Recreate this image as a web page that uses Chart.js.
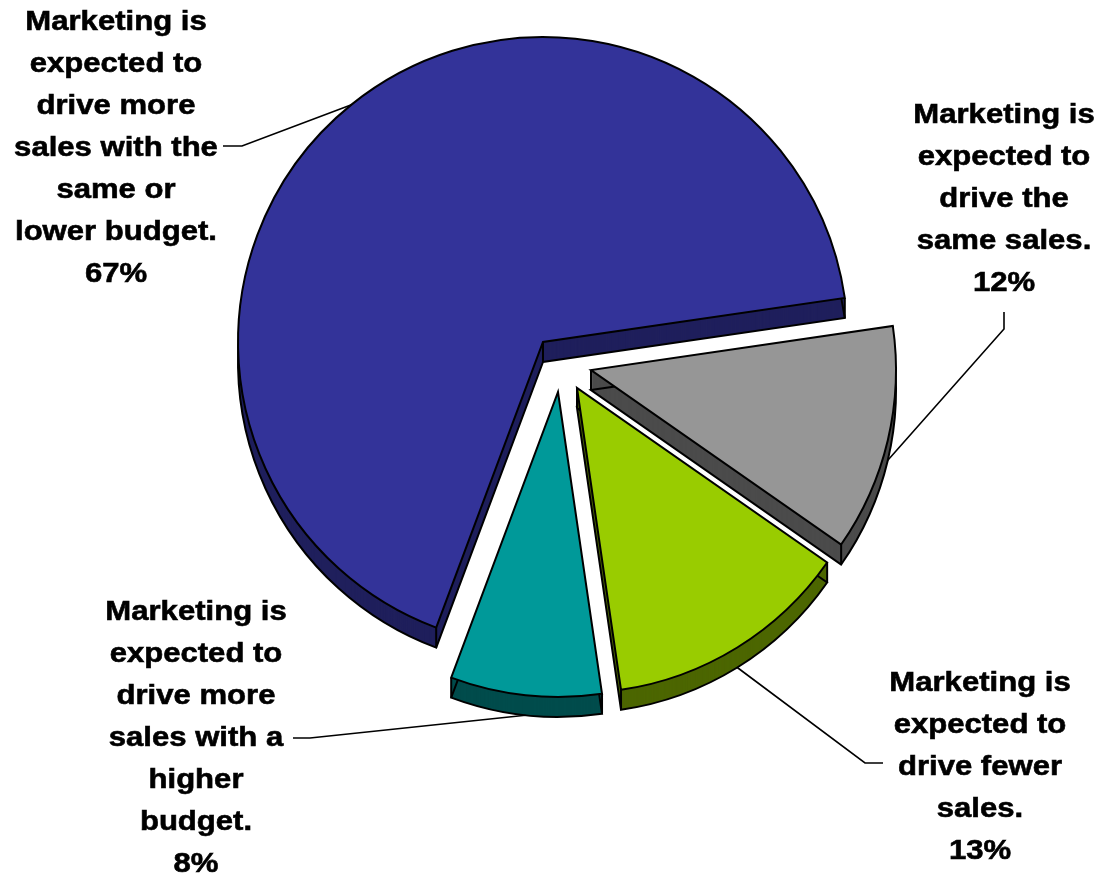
<!DOCTYPE html>
<html>
<head>
<meta charset="utf-8">
<script src="https://cdn.jsdelivr.net/npm/chart.js@4"></script>
<style>
  body { margin: 0; background: #fff; }
  canvas { display: block; }
</style>
</head>
<body>
<canvas id="grafico" width="1101" height="881"></canvas>
<script>
// categorias (cada rótulo quebrado em linhas) e valores em %
var categorias = [
  ["Marketing is", "expected to", "drive more", "sales with the", "same or", "lower budget."],
  ["Marketing is", "expected to", "drive the", "same sales."],
  ["Marketing is", "expected to", "drive fewer", "sales."],
  ["Marketing is", "expected to", "drive more", "sales with a", "higher", "budget."]
];
var valores = [67, 12, 13, 8];

var cores = ['#333399', '#969696', '#99CC00', '#009999'];
var coresLado = ['#1F1F5C', '#4B4B4B', '#4C6600', '#004C4C'];

// deslocamento das fatias destacadas
var destaque = [[0, 0], [48, 28], [34, 46], [15, 50]];
var profundidade = 20;

// posição dos rótulos (centro da primeira linha) e cotovelo da linha guia
var rotulos = [
  { x: 116, y: 22, guia: [[223, 146], [242, 146]] },
  { x: 1004, y: 115, guia: [[1004, 312], [1004, 329]] },
  { x: 980, y: 683, guia: [[883, 763], [865, 763]] },
  { x: 196, y: 612, guia: [[293, 738], [310, 738]] }
];

function caminhoFatia(ctx, x, y, r, a0, a1) {
  ctx.beginPath();
  ctx.moveTo(x, y);
  ctx.arc(x, y, r, a0, a1);
  ctx.closePath();
}

function propsArco(arc) {
  return arc.getProps(['x', 'y', 'startAngle', 'endAngle', 'outerRadius'], true);
}

// separa as fatias depois que o Chart.js calcula os ângulos
const explodir = {
  id: 'explodir',
  afterDatasetUpdate(chart, args) {
    args.meta.data.forEach(function (arc, i) {
      arc.x += destaque[i][0];
      arc.y += destaque[i][1];
    });
  }
};

// lateral 3D desenhada antes das faces de cima
const lateral = {
  id: 'lateral',
  beforeDatasetsDraw(chart) {
    const ctx = chart.ctx;
    chart.getDatasetMeta(0).data.forEach(function (arc, i) {
      const p = propsArco(arc);
      const r = p.outerRadius;
      ctx.save();
      ctx.fillStyle = coresLado[i];
      for (let d = profundidade; d >= 0; d--) {
        caminhoFatia(ctx, p.x, p.y + d, r, p.startAngle, p.endAngle);
        ctx.fill();
      }
      ctx.strokeStyle = '#000';
      ctx.lineWidth = 2;
      ctx.lineJoin = 'miter';
      caminhoFatia(ctx, p.x, p.y + profundidade, r, p.startAngle, p.endAngle);
      ctx.stroke();
      ctx.beginPath();
      [p.startAngle, p.endAngle].forEach(function (a) {
        const cx = p.x + r * Math.cos(a);
        const cy = p.y + r * Math.sin(a);
        ctx.moveTo(cx, cy);
        ctx.lineTo(cx, cy + profundidade);
      });
      ctx.moveTo(p.x, p.y);
      ctx.lineTo(p.x, p.y + profundidade);
      ctx.stroke();
      ctx.restore();
    });
  }
};

// rótulos com linhas guia
const legendas = {
  id: 'legendas',
  afterDraw(chart) {
    const ctx = chart.ctx;
    const arcos = chart.getDatasetMeta(0).data;
    ctx.save();
    ctx.fillStyle = '#000';
    ctx.strokeStyle = '#000';
    ctx.font = 'bold 28px "Liberation Sans", Arial, sans-serif';
    ctx.textAlign = 'center';
    ctx.textBaseline = 'middle';
    rotulos.forEach(function (rot, i) {
      const linhas = categorias[i].concat([valores[i] + '%']);
      linhas.forEach(function (t, k) {
        ctx.save();
        ctx.translate(rot.x, rot.y + k * 42);
        ctx.scale(1.11, 1);
        ctx.lineWidth = 0.6;
        ctx.fillText(t, 0, 0);
        ctx.strokeText(t, 0, 0);
        ctx.restore();
      });
      const p = propsArco(arcos[i]);
      const meio = (p.startAngle + p.endAngle) / 2;
      const px = p.x + p.outerRadius * Math.cos(meio);
      const py = p.y + p.outerRadius * Math.sin(meio) + (Math.sin(meio) > 0 ? profundidade : 0);
      ctx.lineWidth = 1.6;
      ctx.beginPath();
      ctx.moveTo(rot.guia[0][0], rot.guia[0][1]);
      ctx.lineTo(rot.guia[1][0], rot.guia[1][1]);
      ctx.lineTo(px, py);
      ctx.stroke();
    });
    ctx.restore();
  }
};

const ctx = document.getElementById('grafico').getContext('2d');
const myChart = new Chart(ctx, {
  type: 'pie',
  data: {
    labels: categorias.map(function (c) { return c.join(' '); }),
    datasets: [{
      data: valores,
      backgroundColor: cores,
      borderColor: '#000',
      borderWidth: 2,
      borderJoinStyle: 'miter'
    }]
  },
  options: {
    responsive: false,
    animation: false,
    rotation: 200.5,
    radius: 305,
    layout: { padding: { left: 0, right: 15, top: 0, bottom: 197 } },
    plugins: {
      legend: { display: false },
      tooltip: { enabled: false }
    }
  },
  plugins: [explodir, lateral, legendas]
});
</script>
</body>
</html>
